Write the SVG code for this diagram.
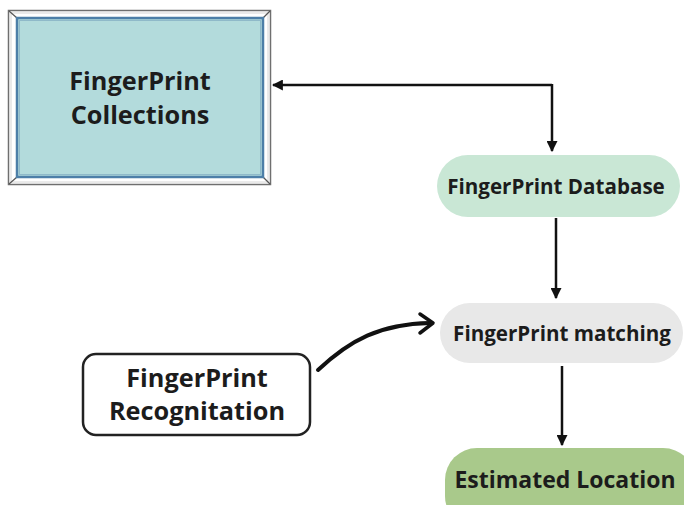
<svg xmlns="http://www.w3.org/2000/svg" width="684" height="505" viewBox="0 0 684 505">
  <defs>
    <style>
      .lbl { font-family: "Open Sans", "Noto Sans", "Liberation Sans", sans-serif; font-weight: bold; fill: #1c1c1c; text-anchor: middle; }
      .big { font-size: 25.3px; }
      .mid { font-size: 20.6px; }
      .conn { fill: none; stroke: #111; stroke-width: 2.5; }
    </style>
    <marker id="tri" viewBox="0 0 10 10" refX="9" refY="5" markerWidth="4.4" markerHeight="4.4" orient="auto" markerUnits="strokeWidth">
      <path d="M0,0 L10,5 L0,10 z" fill="#111"/>
    </marker>
  </defs>

  <rect width="684" height="505" fill="#ffffff"/>

  <!-- bevelled frame around the collections box -->
  <g id="collections">
    <rect x="8.5" y="10.5" width="262" height="174" fill="#ffffff" stroke="#6f6f6f" stroke-width="1.5"/>
    <rect x="11" y="13" width="257" height="169" fill="none" stroke="#d6d6d6" stroke-width="1"/>
    <g stroke="#555" stroke-width="1.2">
      <line x1="9" y1="11" x2="17" y2="18"/>
      <line x1="270" y1="11" x2="263" y2="18"/>
      <line x1="9" y1="184" x2="17" y2="177"/>
      <line x1="270" y1="184" x2="263" y2="177"/>
    </g>
    <rect x="17" y="18" width="246" height="159" fill="#b3dbdc" stroke="#4d7fa8" stroke-width="2.5"/>
    <rect x="19.5" y="20.5" width="241" height="154" fill="none" stroke="#8fb9c9" stroke-width="1"/>
    <text class="lbl big" x="140" y="90">FingerPrint</text>
    <text class="lbl big" x="140" y="124">Collections</text>
  </g>

  <g id="database">
    <rect x="437" y="155" width="243" height="62" rx="31" fill="#c9e7d5"/>
    <text class="lbl mid" x="556" y="194">FingerPrint Database</text>
  </g>

  <g id="matching">
    <rect x="440" y="303" width="243" height="60" rx="30" fill="#e8e8e8"/>
    <text class="lbl mid" x="562" y="341">FingerPrint matching</text>
  </g>

  <g id="recognitation">
    <rect x="83" y="354" width="227" height="81" rx="13" fill="#ffffff" stroke="#222" stroke-width="2.5"/>
    <text class="lbl big" x="197" y="387">FingerPrint</text>
    <text class="lbl big" x="197" y="420">Recognitation</text>
  </g>

  <g id="estimated">
    <rect x="445" y="448" width="250" height="80" rx="32" fill="#a9c98b"/>
    <text class="lbl" style="font-size:23px" x="565" y="488">Estimated Location</text>
  </g>

  <g id="connectors">
    <!-- database feeds collections and loops down to itself -->
    <path class="conn" d="M552,85 L273,85" marker-end="url(#tri)"/>
    <path class="conn" d="M552,84 L552,151" marker-end="url(#tri)"/>
    <path class="conn" d="M556,218 L556,298" marker-end="url(#tri)"/>
    <path class="conn" d="M562,366 L562,445" marker-end="url(#tri)"/>
    <!-- curved feed from recognitation into matching -->
    <path d="M318,370 C350,340 380,324 430,323" fill="none" stroke="#111" stroke-width="4" stroke-linecap="round"/>
    <path d="M420,314 L433,323 L420,333" fill="none" stroke="#111" stroke-width="3.5" stroke-linecap="round" stroke-linejoin="round"/>
  </g>
</svg>
